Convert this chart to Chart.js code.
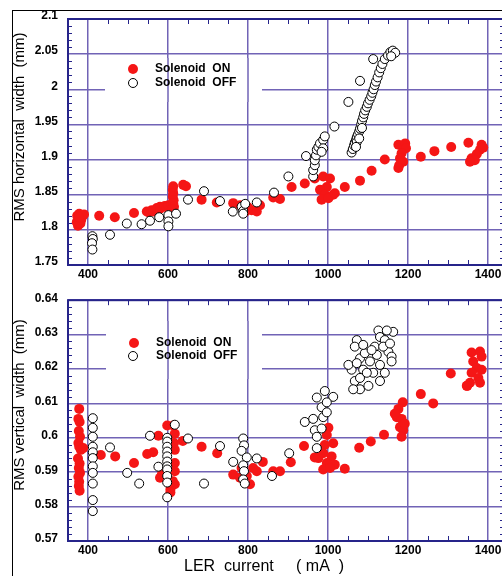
<!DOCTYPE html>
<html>
<head>
<meta charset="utf-8">
<script src="https://cdn.jsdelivr.net/npm/chart.js@4/dist/chart.umd.min.js"></script>
<style>
  body { margin: 0; background: #fff; overflow: hidden; width: 502px; height: 576px; position: relative; }
  #outer { position: absolute; left: 12px; top: 10px; width: 600px; height: 700px; border-left: 1px solid #000; border-top: 1px solid #000; }
  canvas { position: absolute; left: 0; }
  #c1 { top: 0; }
  #c2 { top: 283px; }
</style>
</head>
<body>
<div id="outer"></div>
<canvas id="c1" width="510" height="283"></canvas>
<canvas id="c2" width="510" height="293"></canvas>
<script>
// LER current (mA) vs RMS beam width (mm), solenoid on / off

const xTicks = [400, 600, 800, 1000, 1200, 1400];
const topYTicks = [1.75, 1.8, 1.85, 1.9, 1.95, 2, 2.05, 2.1];
const botYTicks = [0.57, 0.58, 0.59, 0.6, 0.61, 0.62, 0.63, 0.64];
const legendLabels = ['Solenoid  ON', 'Solenoid  OFF'];

// horizontal width, solenoid ON  [current, width]
const topOn = [
  [375,1.806],[372,1.811],[376,1.815],[373,1.820],[378,1.823],[381,1.809],[383,1.814],[386,1.819],
  [390,1.822],[378,1.818],[428,1.820],[467,1.818],[515,1.824],[547,1.826],[551,1.825],[559,1.828],
  [563,1.826],[572,1.831],[580,1.830],[580,1.833],[592,1.834],[597,1.832],[601,1.835],[609,1.836],
  [613,1.862],[612,1.857],[613,1.852],[612,1.847],[614,1.842],[613,1.838],[615,1.833],[611,1.829],
  [638,1.864],[645,1.862],[684,1.843],[722,1.839],[763,1.838],[780,1.835],[792,1.825],[809,1.828],
  [822,1.826],[830,1.835],[800,1.832],[863,1.846],[880,1.844],[909,1.861],[942,1.866],[967,1.873],
  [988,1.876],[1005,1.873],[997,1.861],[980,1.857],[992,1.850],[1013,1.850],[984,1.843],[1001,1.845],
  [1017,1.852],[1042,1.861],[1080,1.870],[1109,1.884],[1142,1.900],[1176,1.921],[1193,1.923],[1195,1.916],
  [1184,1.909],[1180,1.902],[1178,1.892],[1188,1.897],[1176,1.888],[1232,1.904],[1266,1.912],[1308,1.918],
  [1351,1.924],[1384,1.921],[1380,1.914],[1372,1.908],[1359,1.902],[1367,1.899],[1355,1.897],[1388,1.917]
];

// horizontal width, solenoid OFF
const topOff = [
  [411,1.791],[412,1.787],[410,1.781],[411,1.772],[455,1.793],[497,1.809],[534,1.808],[555,1.813],
  [578,1.818],[601,1.821],[601,1.812],[601,1.805],[620,1.823],[650,1.843],[690,1.855],[730,1.841],
  [762,1.826],[784,1.833],[788,1.827],[793,1.837],[788,1.823],[822,1.839],[865,1.853],[901,1.876],
  [945,1.905],[963,1.876],[963,1.885],[967,1.892],[967,1.899],[970,1.906],[972,1.914],[976,1.918],
  [980,1.923],[988,1.928],[992,1.933],[988,1.916],[984,1.911],[1016,1.947],[1051,1.982],[1080,2.012],
  [1113,2.043],
  [1059,1.910],[1062,1.915],[1065,1.920],[1067,1.924],[1070,1.928],[1072,1.932],[1075,1.936],[1078,1.940],
  [1080,1.944],[1083,1.950],[1085,1.955],[1088,1.960],[1090,1.965],[1093,1.970],[1097,1.975],[1100,1.980],
  [1104,1.985],[1108,1.990],[1111,1.995],[1114,2.000],[1117,2.006],[1120,2.011],[1124,2.017],[1128,2.024],
  [1132,2.030],[1136,2.036],[1142,2.043],[1150,2.048],[1156,2.053],[1162,2.055],[1168,2.052],[1158,2.047],
  [1072,1.925],[1078,1.930],[1085,1.945],[1070,1.918]
];

// vertical width, solenoid ON
const botOn = [
  [378,0.6084],[376,0.6055],[379,0.6046],[377,0.6020],[380,0.6003],[376,0.5985],[378,0.5974],[382,0.5965],
  [375,0.5940],[379,0.5925],[377,0.5912],[380,0.5898],[376,0.5887],[378,0.5872],[377,0.5860],[379,0.5846],
  [388,0.5970],[432,0.5950],[468,0.5946],[515,0.5927],[548,0.5953],[563,0.5958],[576,0.6006],[580,0.5884],
  [585,0.5895],[598,0.6036],[613,0.6036],[617,0.6012],[617,0.5965],[617,0.5927],[617,0.5903],[617,0.5865],
  [606,0.5850],[606,0.5841],[612,0.5874],[615,0.5985],[637,0.5991],[684,0.5974],[723,0.5955],[763,0.5893],
  [784,0.5912],[780,0.5884],[805,0.5865],[813,0.5912],[837,0.5930],[822,0.5903],[797,0.5889],[863,0.5903],
  [880,0.5903],[907,0.5929],[940,0.5976],[1001,0.6029],[997,0.6008],[1013,0.5984],[992,0.5979],[967,0.5943],
  [988,0.5955],[1009,0.5946],[1017,0.5922],[997,0.5927],[988,0.5908],[1005,0.5912],[976,0.5941],[1042,0.5910],
  [1078,0.5971],[1107,0.5989],[1140,0.6009],[1187,0.6103],[1176,0.6084],[1172,0.6060],[1184,0.6055],[1180,0.6031],
  [1188,0.6022],[1184,0.6003],[1192,0.6041],[1167,0.6070],[1232,0.6127],[1263,0.6100],[1307,0.6187],[1348,0.6151],
  [1359,0.6248],[1380,0.6251],[1384,0.6236],[1363,0.6222],[1372,0.6203],[1384,0.6198],[1359,0.6189],[1376,0.6174],
  [1355,0.6160],[1347,0.6151],[1380,0.6160]
];

// vertical width, solenoid OFF
const botOff = [
  [412,0.6057],[412,0.6029],[412,0.6003],[412,0.5974],[412,0.5958],[412,0.5941],[412,0.5917],[412,0.5898],
  [412,0.5867],[412,0.5819],[412,0.5787],[455,0.5972],[498,0.5898],[528,0.5867],[555,0.6006],[576,0.5916],
  [598,0.6000],[598,0.5989],[598,0.5974],[598,0.5960],[598,0.5946],[598,0.5931],[598,0.5917],[598,0.5908],
  [598,0.5889],[598,0.5870],[598,0.5827],[617,0.6038],[650,0.5998],[690,0.5867],[730,0.5976],[788,0.5998],
  [790,0.5978],[784,0.5962],[797,0.5943],[763,0.5930],[788,0.5920],[790,0.5903],[788,0.5879],[792,0.5867],
  [822,0.5940],[860,0.5889],[903,0.5955],[942,0.6046],[963,0.6055],[967,0.6022],[972,0.6003],[972,0.5970],
  [984,0.6027],[988,0.6060],[984,0.6089],[992,0.6136],[972,0.6117],[1013,0.6119],[997,0.6103],[997,0.6074],
  [1059,0.6198],[1067,0.6165],[1080,0.6141],[1063,0.6141],[1101,0.6151],[1072,0.6284],[1067,0.6265],[1080,0.6231],
  [1092,0.6246],[1088,0.6198],[1105,0.6222],[1117,0.6265],[1126,0.6312],[1130,0.6293],[1142,0.6284],[1163,0.6308],
  [1151,0.6250],[1159,0.6236],[1142,0.6189],[1130,0.6212],[1113,0.6189],[1051,0.6212],[1080,0.6174],[1097,0.6189],
  [1122,0.6241],[1138,0.6265],[1155,0.6274],[1109,0.6255],[1088,0.6270],[1072,0.6217],[1130,0.6165],[1159,0.6222],
  [1147,0.6312]
];

const RED = 'rgb(245,22,22)';
const GRID = '#7163b6';
const FRAME = '#26248a';
const FONT = '"Liberation Sans", Arial, sans-serif';

function toPoints(pairs) {
  return pairs.map(p => ({ x: p[0], y: p[1] }));
}

function line(ctx, x0, y0, x1, y1) {
  ctx.beginPath();
  ctx.moveTo(x0, y0);
  ctx.lineTo(x1, y1);
  ctx.stroke();
}

// white legend panel, minor ticks, frame and legend entries
const decorPlugin = {
  id: 'decor',
  beforeDatasetsDraw(chart, args, o) {
    const ctx = chart.ctx;
    const a = chart.chartArea;
    const xs = chart.scales.x, ys = chart.scales.y;
    ctx.save();

    const b = o.box;
    ctx.fillStyle = '#fff';
    ctx.fillRect(b[0], b[1], b[2] - b[0], b[3] - b[1]);
    ctx.strokeStyle = GRID;
    ctx.lineWidth = 1.5;
    xTicks.forEach(v => {
      const px = xs.getPixelForValue(v);
      if (px > b[0] && px < b[2]) line(ctx, px, b[1], px, b[3]);
    });

    ctx.strokeStyle = FRAME;
    ctx.lineWidth = 1;
    for (let v = 450; v < xs.max; v += 100) {
      const px = Math.round(xs.getPixelForValue(v)) + 0.5;
      line(ctx, px, a.bottom, px, a.bottom - 5);
      line(ctx, px, a.top, px, a.top + 5);
    }
    for (let v = 500; v < xs.max; v += 200) {
      const px = Math.round(xs.getPixelForValue(v)) + 0.5;
      line(ctx, px, a.bottom, px, a.bottom - 5);
      line(ctx, px, a.top, px, a.top + 5);
    }
    const n = Math.round((ys.max - ys.min) / o.minorStep);
    for (let i = 1; i < n; i++) {
      if (i % 5 === 0) continue;
      const py = Math.round(ys.getPixelForValue(ys.min + i * o.minorStep)) + 0.5;
      line(ctx, a.left, py, a.left + 4, py);
      line(ctx, a.right, py, a.right - 4, py);
    }

    ctx.lineWidth = 2;
    ctx.strokeRect(a.left, a.top, a.right - a.left, a.bottom - a.top);

    // legend entries
    const ds = chart.data.datasets;
    ctx.font = 'bold 12px ' + FONT;
    ctx.textBaseline = 'middle';
    ctx.textAlign = 'left';
    o.items.forEach((it, i) => {
      const d = ds[i];
      ctx.beginPath();
      ctx.arc(it[0], it[1], d.pointRadius, 0, Math.PI * 2);
      ctx.fillStyle = d.backgroundColor;
      ctx.fill();
      if (d.borderWidth) {
        ctx.lineWidth = d.borderWidth;
        ctx.strokeStyle = d.borderColor;
        ctx.stroke();
      }
      ctx.fillStyle = '#000';
      ctx.fillText(d.label, o.textX, it[1]);
    });
    ctx.restore();
  },
  afterDraw(chart, args, o) {
    const ctx = chart.ctx;
    ctx.save();
    ctx.fillStyle = '#000';
    ctx.textAlign = 'center';
    ctx.textBaseline = 'middle';
    ctx.font = '15px ' + FONT;
    ctx.translate(o.yTitle[0], o.yTitle[1]);
    ctx.rotate(-Math.PI / 2);
    ctx.fillText(o.yTitle[2], 0, 0);
    ctx.restore();
    if (o.xTitle) {
      ctx.save();
      ctx.fillStyle = '#000';
      ctx.textAlign = 'center';
      ctx.textBaseline = 'middle';
      ctx.font = '16px ' + FONT;
      ctx.fillText(o.xTitle[2], o.xTitle[0], o.xTitle[1]);
      ctx.restore();
    }
  }
};

function makeChart(id, on, off, yMin, yMax, yTicks, cfg) {
  return new Chart(document.getElementById(id), {
    type: 'scatter',
    data: {
      datasets: [
        { label: legendLabels[0], data: toPoints(on), order: 2,
          backgroundColor: RED, borderWidth: 0, pointRadius: 5, pointHoverRadius: 5 },
        { label: legendLabels[1], data: toPoints(off), order: 1,
          backgroundColor: '#fff', borderColor: '#000', borderWidth: 1, pointRadius: 4.5, pointHoverRadius: 4.5 }
      ]
    },
    options: {
      responsive: false,
      animation: false,
      devicePixelRatio: 1,
      layout: { padding: { top: cfg.top, right: 6, left: 0, bottom: 0 } },
      scales: {
        x: {
          type: 'linear', min: 350, max: 1440,
          afterBuildTicks: s => { s.ticks = xTicks.map(v => ({ value: v })); },
          afterFit: s => { s.height = cfg.xHeight; },
          grid: { color: GRID, lineWidth: 1.5, drawTicks: false },
          border: { display: false },
          ticks: { color: '#000', padding: 2, maxRotation: 0,
            font: { family: FONT, size: 12, weight: 'bold' },
            callback: v => String(v) }
        },
        y: {
          type: 'linear', min: yMin, max: yMax,
          afterBuildTicks: s => { s.ticks = yTicks.map(v => ({ value: v })); },
          afterFit: s => { s.width = 68; },
          grid: { color: GRID, lineWidth: 1.5, drawTicks: false },
          border: { display: false },
          ticks: { color: '#000', padding: 10, labelOffset: cfg.labelOffset,
            font: { family: FONT, size: 12, weight: 'bold' },
            callback: v => String(+v.toFixed(3)) }
        }
      },
      plugins: {
        legend: { display: false },
        tooltip: { enabled: false },
        decor: cfg.decor
      }
    },
    plugins: [decorPlugin]
  });
}

makeChart('c1', topOn, topOff, 1.75, 2.1, topYTicks, {
  top: 19, xHeight: 18, labelOffset: -3,
  decor: {
    minorStep: 0.01,
    box: [105, 58, 262, 102],
    items: [[133, 69], [133, 83]],
    textX: 155,
    yTitle: [20, 127, 'RMS horizontal  width  (mm)']
  }
});

makeChart('c2', botOn, botOff, 0.57, 0.64, botYTicks, {
  top: 13, xHeight: 35, labelOffset: -2,
  decor: {
    minorStep: 0.002,
    box: [106, 38, 262, 96],
    items: [[134, 60], [133, 73]],
    textX: 156,
    yTitle: [20, 122, 'RMS vertical  width  (mm)'],
    xTitle: [264, 284, 'LER  current     ( mA  )']
  }
});
</script>
</body>
</html>
